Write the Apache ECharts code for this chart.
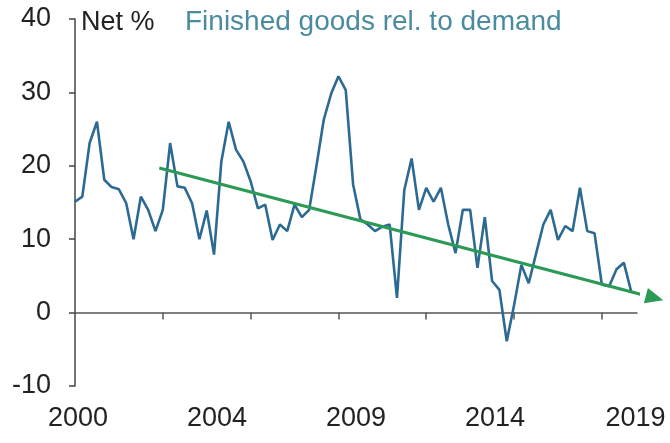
<!DOCTYPE html>
<html>
<head>
<meta charset="utf-8">
<script src="https://cdn.jsdelivr.net/npm/echarts@6/dist/echarts.min.js"></script>
<style>
  html, body { margin: 0; padding: 0; background: #ffffff; }
  #chart { width: 670px; height: 443px; }
</style>
</head>
<body>
<div id="chart"></div>
<script>
// ---- Data ----
const startYear = 2000;          // first quarter of the series
const stepYears = 0.25;          // quarterly observations
const netValues = [
  15.1, 15.8, 23.1, 26.0, 18.1, 17.1, 16.8, 14.9, 10.0, 15.8,
  14.0, 11.1, 14.0, 23.1, 17.2, 17.0, 14.9, 10.0, 13.9, 7.9,
  20.6, 26.0, 22.2, 20.6, 17.9, 14.2, 14.7, 9.9, 12.0, 11.1,
  14.7, 13.0, 14.0, 20.0, 26.3, 29.8, 32.2, 30.3, 17.5, 12.7,
  12.0, 11.1, 11.7, 12.0, 2.0, 16.7, 21.0, 14.0, 17.0, 15.1,
  17.0, 12.0, 8.1, 14.0, 14.0, 6.1, 13.0, 4.3, 3.1, -3.9,
  1.0, 6.5, 4.0, 8.0, 12.0, 14.0, 9.9, 11.8, 11.1, 17.0,
  11.1, 10.8, 3.8, 3.6, 5.9, 6.8, 2.9
];
const trendStart = [2002.88, 19.7];
const trendEnd = [2019.8, 2.0];
const xTickLabels = ['2000', '2004', '2009', '2014', '2019'];
const xTickLabelPos = [2000.1, 2004.85, 2009.6, 2014.35, 2019.15];
const xTickMarks = [2003, 2006, 2009, 2012, 2015, 2018];
const yTicks = { min: -10, max: 40, interval: 10 };
const unitLabel = 'Net %';
const seriesName = 'Finished goods rel. to demand';

const xMin = 2000, xMax = 2019.2;
const FONT = '"Liberation Sans", Arial, sans-serif';

const lineData = netValues.map((v, i) => [startYear + i * stepYears, v]);

const chart = echarts.init(document.getElementById('chart'), null, { renderer: 'canvas' });

function buildOption(arrowRotate) {
  return {
    backgroundColor: '#ffffff',
    animation: false,
    grid: { left: 75, right: 33, top: 19, bottom: 57, containLabel: false, outerBoundsMode: 'none' },
    xAxis: [
      {
        type: 'value', min: xMin, max: xMax, interval: 3,
        axisLine: { show: true, onZero: true, lineStyle: { color: '#555555', width: 1.5 } },
        axisTick: { show: true, customValues: xTickMarks, length: 7, lineStyle: { color: '#555555', width: 1.5 } },
        axisLabel: { show: false },
        splitLine: { show: false }
      },
      {
        type: 'value', min: xMin, max: xMax, position: 'bottom',
        axisLine: { show: false, onZero: false },
        axisTick: { show: false },
        splitLine: { show: false },
        axisLabel: {
          show: true,
          customValues: xTickLabelPos,
          formatter: function (v) {
            const idx = xTickLabelPos.findIndex(p => Math.abs(p - v) < 1e-6);
            return idx >= 0 ? xTickLabels[idx] : '';
          },
          fontSize: 27, color: '#222222', fontFamily: FONT, margin: 19
        }
      }
    ],
    yAxis: {
      type: 'value', min: yTicks.min, max: yTicks.max, interval: yTicks.interval,
      axisLine: { show: true, onZero: false, lineStyle: { color: '#444444', width: 1.5 } },
      axisTick: { show: true, length: 6, lineStyle: { color: '#444444', width: 1.5 } },
      axisLabel: { fontSize: 27, color: '#222222', fontFamily: FONT, margin: 24 },
      splitLine: { show: false }
    },
    graphic: [
      { type: 'text', left: 81, top: 9, style: { text: unitLabel, fontSize: 27, fill: '#222222', fontFamily: FONT } },
      { type: 'text', left: 185, top: 8, style: { text: seriesName, fontSize: 28, fill: '#4a8c9e', fontFamily: FONT } }
    ],
    series: [
      {
        name: seriesName, type: 'line', xAxisIndex: 0, yAxisIndex: 0,
        data: lineData, showSymbol: false, symbol: 'none',
        lineStyle: { color: '#2c6a93', width: 2.6 }, z: 3
      },
      {
        name: 'trend', type: 'line', xAxisIndex: 0, yAxisIndex: 0, clip: false,
        data: [
          { value: trendStart, symbol: 'none' },
          { value: trendEnd, symbol: 'triangle', symbolSize: [16, 18], symbolRotate: arrowRotate,
            itemStyle: { color: '#2a9a55' } }
        ],
        showSymbol: true, showAllSymbol: true,
        lineStyle: { color: '#2a9a55', width: 3.2 },
        itemStyle: { color: '#2a9a55' },
        z: 4
      }
    ]
  };
}

chart.setOption(buildOption(0));
const p0 = chart.convertToPixel({ gridIndex: 0 }, trendStart);
const p1 = chart.convertToPixel({ gridIndex: 0 }, trendEnd);
const ang = Math.atan2(-(p1[1] - p0[1]), p1[0] - p0[0]) * 180 / Math.PI - 90;
chart.setOption(buildOption(ang));
</script>
</body>
</html>
